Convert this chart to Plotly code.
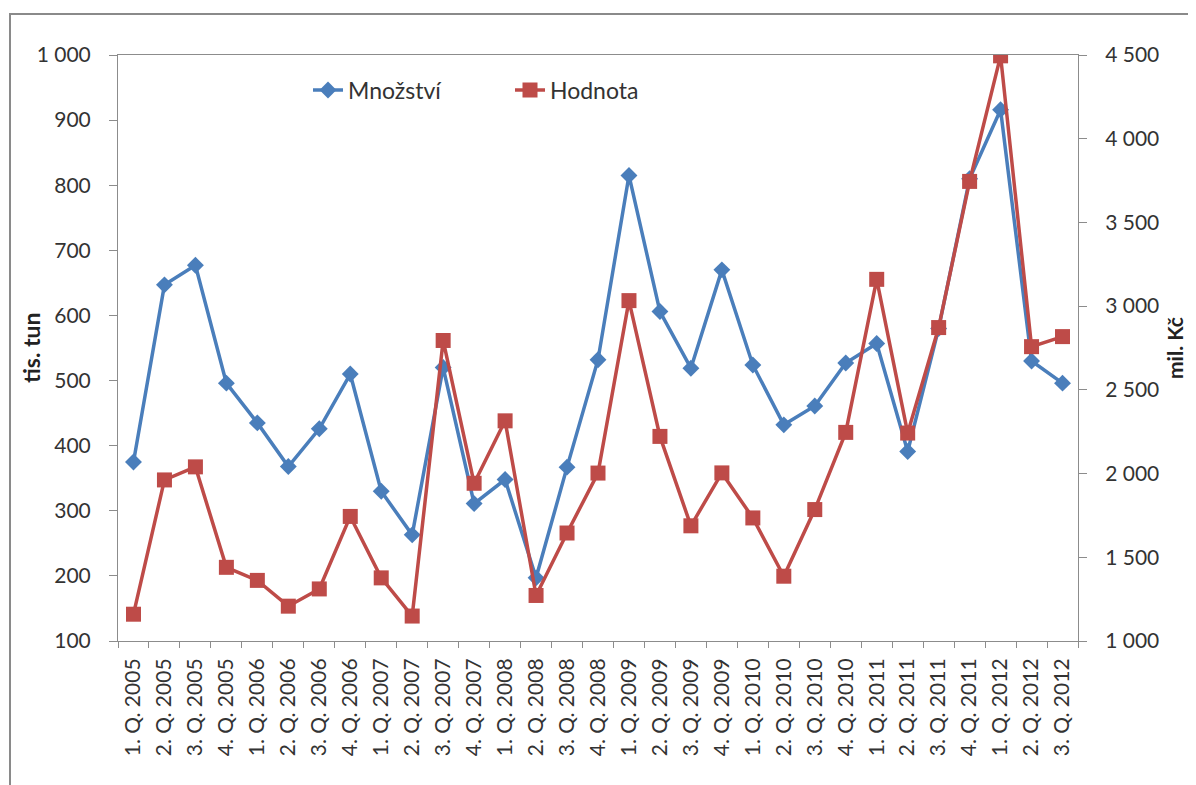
import plotly.graph_objects as go

quarters = ["1. Q. 2005", "2. Q. 2005", "3. Q. 2005", "4. Q. 2005",
            "1. Q. 2006", "2. Q. 2006", "3. Q. 2006", "4. Q. 2006",
            "1. Q. 2007", "2. Q. 2007", "3. Q. 2007", "4. Q. 2007",
            "1. Q. 2008", "2. Q. 2008", "3. Q. 2008", "4. Q. 2008",
            "1. Q. 2009", "2. Q. 2009", "3. Q. 2009", "4. Q. 2009",
            "1. Q. 2010", "2. Q. 2010", "3. Q. 2010", "4. Q. 2010",
            "1. Q. 2011", "2. Q. 2011", "3. Q. 2011", "4. Q. 2011",
            "1. Q. 2012", "2. Q. 2012", "3. Q. 2012"]

mnozstvi = [375, 647, 677, 496, 435, 368, 426, 510,
            330, 263, 520, 311, 348, 197, 367, 532,
            815, 606, 519, 670, 524, 432, 461, 527,
            557, 391, 580, 810, 916, 530, 496]

hodnota = [1160, 1962, 2040, 1440, 1362, 1208, 1311, 1744,
           1377, 1149, 2795, 1942, 2315, 1272, 1645, 2003,
           3033, 2222, 1688, 2004, 1735, 1387, 1785, 2246,
           3160, 2242, 2872, 3745, 4495, 2758, 2818]

blue = "#4A7EBB"
red = "#BE4B48"
font_family = "Lato, 'Open Sans', sans-serif"
text_color = "#333333"
tick_size = 21

fig = go.Figure()
fig.add_trace(go.Scatter(
    x=quarters, y=mnozstvi, name="Množství", mode="lines+markers",
    line=dict(color=blue, width=3.5),
    marker=dict(symbol="diamond", size=13, color=blue),
    yaxis="y", legend="legend"))
fig.add_trace(go.Scatter(
    x=quarters, y=hodnota, name="Hodnota", mode="lines+markers",
    line=dict(color=red, width=3.5),
    marker=dict(symbol="square", size=15, color=red),
    yaxis="y2", legend="legend2"))

axis_color = "#8C8C8C"
W, H = 1188, 777
L, R, T, B = 110, 118, 47, 144
pw, ph = W - L - R, H - T - B

def px_x(x):
    return (x - L) / pw

def px_y(y):
    return (H - B - y) / ph

legend_common = dict(orientation="h", xanchor="left", yanchor="middle",
                     font=dict(size=23, color=text_color),
                     bgcolor="rgba(0,0,0,0)")

fig.update_layout(
    width=W, height=H,
    margin=dict(l=L, r=R, t=T, b=B, autoexpand=False),
    paper_bgcolor="white", plot_bgcolor="white",
    separators=", ",
    font=dict(family=font_family, size=tick_size, color=text_color),
    showlegend=True,
    legend=dict(x=px_x(300), y=px_y(82), **legend_common),
    legend2=dict(x=px_x(502), y=px_y(82), **legend_common),
    xaxis=dict(type="category", tickangle=-90, showgrid=False,
               showline=True, linecolor=axis_color, linewidth=1, mirror=True,
               ticks="outside", ticklen=6, tickcolor=axis_color, tickson="boundaries",
               ticklabelstandoff=8,
               tickfont=dict(size=tick_size, color=text_color), range=[-0.5, 30.5]),
    yaxis=dict(range=[100, 1000], dtick=100, tickformat=",d", showgrid=False,
               showline=True, linecolor=axis_color, linewidth=1,
               ticks="outside", ticklen=8, tickcolor=axis_color,
               ticklabelstandoff=14, zeroline=False,
               tickfont=dict(size=tick_size, color=text_color)),
    yaxis2=dict(range=[1000, 4500], dtick=500, tickformat=",d", overlaying="y",
                side="right", showgrid=False,
                showline=True, linecolor=axis_color, linewidth=1,
                ticks="outside", ticklen=8, tickcolor=axis_color,
                ticklabelstandoff=14, zeroline=False,
                tickfont=dict(size=tick_size, color=text_color)),
    annotations=[
        dict(text="<b>tis. tun</b>", xref="paper", yref="paper",
             x=px_x(23), y=0.5, textangle=-90, showarrow=False,
             font=dict(size=23, color="#222222"), xanchor="center", yanchor="middle"),
        dict(text="<b>mil. Kč</b>", xref="paper", yref="paper",
             x=px_x(1166), y=0.5, textangle=-90, showarrow=False,
             font=dict(size=21, color="#222222"), xanchor="center", yanchor="middle"),
    ],
    shapes=[dict(type="rect", xref="paper", yref="paper",
                 x0=px_x(2), x1=1.3, y0=-0.4, y1=px_y(6),
                 line=dict(color="#8A8A8A", width=2), fillcolor="rgba(0,0,0,0)",
                 layer="below")],
)

fig.write_html("out.html")
